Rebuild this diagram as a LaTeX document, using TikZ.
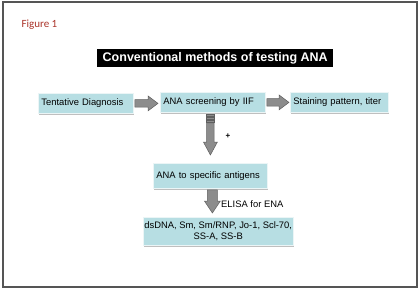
\documentclass[tikz,border=0pt]{standalone}
\usepackage{fontspec}
\setmainfont{Liberation Sans}
\newfontfamily\figfont{Carlito}
\usetikzlibrary{calc,shadows}
\definecolor{boxfill}{RGB}{183,222,227}
\definecolor{boxline}{RGB}{235,245,246}
\definecolor{arrfill}{RGB}{140,140,140}
\definecolor{arrline}{RGB}{95,95,95}
\definecolor{figred}{RGB}{170,50,40}
\definecolor{framecol}{RGB}{85,85,85}
\tikzset{
  boxnode/.style={fill=boxfill, draw=boxline, line width=0.8pt, anchor=north west,
    inner xsep=3pt, inner ysep=0pt, font=\fontsize{9.4}{11.5}\selectfont,
    drop shadow={shadow xshift=1pt, shadow yshift=-1.2pt, fill=black, opacity=0.25}},
  blockarrow/.style={fill=arrfill, draw=arrline, line width=0.5pt},
}
% horizontal block arrow: from, to, shaft half height, head half height
\newcommand{\hblock}[4]{%
  \filldraw[blockarrow] let \p1=(#1), \p2=(#2) in
    (\x1,\y1-#3) -- (\x2-10pt,\y1-#3) -- (\x2-10pt,\y1-#4) -- (\x2,\y1)
    -- (\x2-10pt,\y1+#4) -- (\x2-10pt,\y1+#3) -- (\x1,\y1+#3) -- cycle;}
% vertical block arrow going down: from, to, shaft half width, head half width, head length
\newcommand{\vblock}[5]{%
  \filldraw[blockarrow] let \p1=(#1), \p2=(#2) in
    (\x1-#3,\y1) -- (\x1-#3,\y2+#5) -- (\x1-#4,\y2+#5) -- (\x1,\y2)
    -- (\x1+#4,\y2+#5) -- (\x1+#3,\y2+#5) -- (\x1+#3,\y1) -- cycle;}
\begin{document}
\begin{tikzpicture}[x=1pt,y=-1pt]
\useasboundingbox (0,0) rectangle (420,289);
\draw[framecol, line width=1.5pt] (3,2) rectangle (417,287);

\node[font=\figfont\fontsize{11}{13}\selectfont, text=figred, anchor=west] (fig) at (18,25) {Figure 1};

\node[fill=black, text=white, font=\fontsize{12.5}{14}\selectfont\bfseries,
  minimum width=236pt, minimum height=18pt, inner sep=0pt, anchor=north west] (title) at (97,49)
  {Conventional methods of testing ANA};

\node[boxnode, minimum width=95pt, minimum height=20pt, text width=89pt, align=left] (b1) at (38,93) {Tentative Diagnosis};
\node[boxnode, minimum width=105pt, minimum height=20pt, text width=99pt, align=left] (b2) at (160,92) {ANA screening by IIF};
\node[boxnode, minimum width=98pt, minimum height=20pt, text width=92pt, align=left] (b3) at (290,92) {Staining pattern, titer};
\node[boxnode, minimum width=114pt, minimum height=25pt, text width=108pt, align=left] (b4) at (153,163) {ANA to specific antigens};
\node[boxnode, minimum width=145pt, minimum height=28pt, align=center, inner xsep=1pt] (b5) at (143,217) {dsDNA, Sm, Sm/RNP, Jo-1, Scl-70,\\SS-A, SS-B};

% horizontal arrows
\coordinate (a1s) at ($(b1.east)+(1,0)$);
\coordinate (a1e) at ($(b2.west)+(-2,0)$);
\hblock{a1s}{a1e}{3.8pt}{7.5pt}
\coordinate (a2s) at ($(b2.east)+(1,0)$);
\coordinate (a2e) at ($(b3.west)+(-1,0)$);
\hblock{a2s}{a2e}{3.8pt}{7.5pt}

% first down arrow with stripes
\coordinate (d1top) at (b4.north |- b2.south);
\coordinate (d1s) at ($(d1top)+(0,10)$);
\coordinate (d1e) at ($(b4.north)+(0,-8)$);
\vblock{d1s}{d1e}{3.8pt}{7pt}{13pt}
\foreach \yy in {1,4,7} {
  \filldraw[blockarrow] ($(d1top)+(-3.8,\yy)$) rectangle ($(d1top)+(3.8,\yy+2)$);
}
\node[font=\fontsize{8}{9}\selectfont\bfseries, inner sep=0pt] (plus) at (228,136) {+};

% second down arrow
\coordinate (d2s) at ($(b4.south)+(2,1)$);
\coordinate (d2e) at ($(d2s |- b5.north)+(0,-4)$);
\vblock{d2s}{d2e}{5pt}{8pt}{12pt}
\node[font=\fontsize{9.4}{11}\selectfont, anchor=west, inner sep=0pt] (elisa) at (221,204) {ELISA for ENA};
\end{tikzpicture}
\end{document}
